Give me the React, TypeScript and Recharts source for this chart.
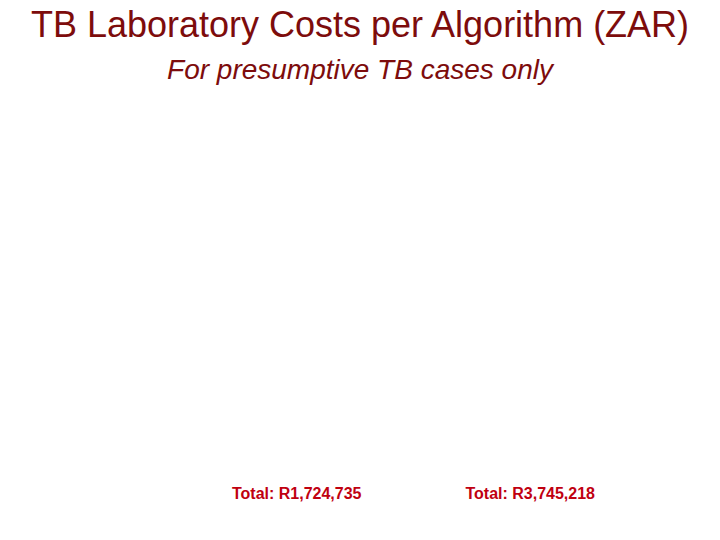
import React from "react";
import { Bar, BarChart, XAxis, YAxis } from "recharts";

// algorithms compared and their total lab cost (ZAR)
const algorithms = ["Algorithm A", "Algorithm B"];
const totals = [1724735, 3745218];
const tickLabels = ["Total: R1,724,735", "Total: R3,745,218"];

const data = algorithms.map((name, i) => ({ name, total: totals[i], label: tickLabels[i] }));

const font = "Arial, 'Liberation Sans', sans-serif";

export default function App() {
  return (
    <div style={{ position: "absolute", left: 0, top: 0, width: 720, height: 540, background: "#fff", fontFamily: font }}>
      <div
        style={{
          position: "absolute",
          top: 5,
          width: 720,
          textAlign: "center",
          fontSize: 36,
          color: "#7d0c0c",
          lineHeight: "40px",
        }}
      >
        TB Laboratory Costs per Algorithm (ZAR)
      </div>
      <div
        style={{
          position: "absolute",
          top: 53,
          width: 720,
          textAlign: "center",
          fontSize: 28,
          fontStyle: "italic",
          color: "#7d0c0c",
          lineHeight: "34px",
        }}
      >
        For presumptive TB cases only
      </div>
      <BarChart
        width={720}
        height={540}
        data={data}
        margin={{ top: 100, right: 73, bottom: 30, left: 180 }}
      >
        <XAxis
          dataKey="label"
          axisLine={false}
          tickLine={false}
          height={30}
          tick={{ fill: "#c00010", fontSize: 16, fontWeight: "bold", fontFamily: font }}
        />
        <YAxis hide domain={[0, 4000000]} />
        <Bar dataKey="total" fill="transparent" isAnimationActive={false} />
      </BarChart>
    </div>
  );
}
